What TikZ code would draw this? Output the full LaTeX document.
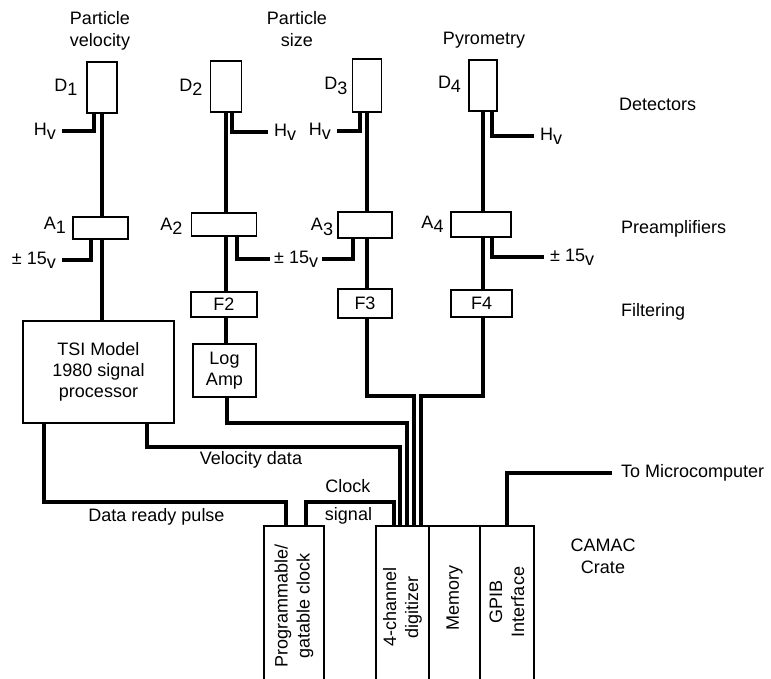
\documentclass[tikz,border=0pt]{standalone}
\usepackage{fontspec}
\setmainfont{Liberation Sans}
\newcommand\lowsub[1]{\raisebox{-0.45ex}{#1}}
\begin{document}
\begin{tikzpicture}[x=1pt,y=-1pt,
  box/.style={draw,line width=1.9pt,inner sep=0pt,font=\fontsize{18}{21}\selectfont,align=center},
  wire/.style={line width=3.1pt},
  lbl/.style={inner sep=0pt,font=\fontsize{18}{22}\selectfont,align=center},
  lead/.style={lbl,inner xsep=6pt},
]
\useasboundingbox (0,0) rectangle (771,679);
% detectors
\node[box,minimum width=30,minimum height=51] (D1) at (102,87.5) {};
\node[box,minimum width=31,minimum height=51] (D2) at (226,86.5) {};
\node[box,minimum width=29,minimum height=53] (D3) at (367,85.5) {};
\node[box,minimum width=28,minimum height=51] (D4) at (483,85.5) {};
% preamplifiers
\node[box,minimum width=55,minimum height=22] (A1) at (100.5,228) {};
\node[box,minimum width=65,minimum height=23] (A2) at (224,224.5) {};
\node[box,minimum width=54,minimum height=26] (A3) at (365,225) {};
\node[box,minimum width=60,minimum height=25] (A4) at (481,224.5) {};
% filters
\node[box,minimum width=66,minimum height=25] (F2) at (224,304.5) {F2};
\node[box,minimum width=54,minimum height=29] (F3) at (365,303.5) {F3};
\node[box,minimum width=61,minimum height=27] (F4) at (481.5,303.5) {F4};
\node[box,minimum width=63,minimum height=53] (LA) at (224.5,370.5) {Log\\Amp};
\node[box,minimum width=151,minimum height=102] (TSI) at (98.5,372) {TSI Model\\1980 signal\\processor};
% CAMAC crate modules
\node[box,minimum width=60,minimum height=174] (CLK) at (294,613) {};
\node[box,minimum width=53,minimum height=174] (DIG) at (402.5,613) {};
\node[box,minimum width=51,minimum height=174] (MEM) at (454.5,613) {};
\node[box,minimum width=54,minimum height=174] (GPIB) at (507,613) {};
\node[lbl,rotate=90] (tclk) at (294,606) {Programmable/\\gatable clock};
\node[lbl,rotate=90] (tdig) at (402.5,607) {4-channel\\digitizer};
\node[lbl,rotate=90] (tmem) at (454.5,598) {Memory};
\node[lbl,rotate=90] (tgpib) at (507,602) {GPIB\\Interface};
% titles and labels
\node[lbl] (t1) at (100,31) {Particle\\velocity};
\node[lbl] (t2) at (297,29) {Particle\\size};
\node[lbl] (t4) at (484,40) {Pyrometry};
\node[lbl,anchor=west] (tdet) at (619,104) {Detectors};
\node[lbl,anchor=west] (tpre) at (621,229) {Preamplifiers};
\node[lbl,anchor=west] (tfil) at (621,312) {Filtering};
\node[lbl] (ld1) at (66,87) {D\lowsub{1}};
\node[lbl] (ld2) at (191,87) {D\lowsub{2}};
\node[lbl] (ld3) at (336,86) {D\lowsub{3}};
\node[lbl] (ld4) at (449.5,84) {D\lowsub{4}};
\node[lbl] (la1) at (55,225) {A\lowsub{1}};
\node[lbl] (la2) at (171.5,226) {A\lowsub{2}};
\node[lbl] (la3) at (322,227) {A\lowsub{3}};
\node[lbl] (la4) at (432.5,224) {A\lowsub{4}};
\node[lead,anchor=east] (hv1) at (62,131) {H\lowsub{v}};
\node[lead,anchor=west] (hv2) at (268,132) {H\lowsub{v}};
\node[lead,anchor=east] (hv3) at (337,131) {H\lowsub{v}};
\node[lead,anchor=west] (hv4) at (534,136) {H\lowsub{v}};
\node[lead,anchor=east] (pm1) at (62,260) {± 15\lowsub{v}};
\node[lead,anchor=west,inner xsep=4pt] (pm2) at (270,259) {± 15\lowsub{v}};
\node[lead,anchor=west] (pm4) at (544,257) {± 15\lowsub{v}};
\node[lbl] (tvel) at (251,460) {Velocity data};
\node[lbl] (tdrp) at (156.5,517) {Data ready pulse};
\node[lbl] (tck1) at (348,486) {Clock};
\node[lbl] (tck2) at (348.5,516) {signal};
\node[lbl] (tcam) at (603,556) {CAMAC\\Crate};
\node[lead,anchor=west,inner xsep=9pt] (tmic) at (612,473) {To Microcomputer};
% drop points on module tops
\coordinate (pF3) at ([xshift=11.5pt]DIG.north);
\coordinate (pF4) at ([xshift=18.5pt]DIG.north);
\coordinate (pLA) at ([xshift=4.5pt]DIG.north);
\coordinate (pVel) at ([xshift=-2.5pt]DIG.north);
\coordinate (pClk) at ([xshift=-8.5pt]DIG.north);
\coordinate (pDrp) at ([xshift=-8pt]CLK.north);
\coordinate (yF) at (0,396);
\coordinate (yLA) at (0,423);
\coordinate (yVel) at (0,447);
\coordinate (yClk) at (0,502);
% detector and amplifier chain wires
\draw[wire] (D1.south) -- (D1.south |- A1.north);
\draw[wire] (D1.south |- A1.south) -- (D1.south |- TSI.north);
\draw[wire] (D2.south) -- (D2.south |- A2.north);
\draw[wire] (D2.south |- A2.south) -- (D2.south |- F2.north);
\draw[wire] (D2.south |- F2.south) -- (D2.south |- LA.north);
\draw[wire] (D3.south) -- (D3.south |- A3.north);
\draw[wire] (D3.south |- A3.south) -- (D3.south |- F3.north);
\draw[wire] (D4.south) -- (D4.south |- A4.north);
\draw[wire] (D4.south |- A4.south) -- (D4.south |- F4.north);
% high voltage leads
\draw[wire] ([xshift=-8pt]D1.south) |- (hv1.east);
\draw[wire] ([xshift=6pt]D2.south) |- (hv2.west);
\draw[wire] ([xshift=-7pt]D3.south) |- (hv3.east);
\draw[wire] ([xshift=9pt]D4.south) |- (hv4.west);
% supply leads
\draw[wire] ([xshift=-9.5pt]A1.south) |- (pm1.east);
\draw[wire] ([xshift=13pt]A2.south) |- (pm2.west);
\draw[wire] ([xshift=-12pt]A3.south) |- (pm2.east);
\draw[wire] ([xshift=11pt]A4.south) |- (pm4.west);
% signals to digitizer
\draw[wire] (D3.south |- F3.south) |- (yF -| pF3) -- (pF3);
\draw[wire] (D4.south |- F4.south) |- (yF -| pF4) -- (pF4);
\draw[wire] ([xshift=2.5pt]LA.south) |- (yLA -| pLA) -- (pLA);
\draw[wire] ([xshift=48.5pt]TSI.south) |- (yVel -| pVel) -- (pVel);
\draw[wire] ([xshift=12pt]CLK.north) |- (yClk -| pClk) -- (pClk);
\draw[wire] ([xshift=-54.5pt]TSI.south) |- (yClk -| pDrp) -- (pDrp);
\draw[wire] (GPIB.north) |- (tmic.west);
\end{tikzpicture}
\end{document}
